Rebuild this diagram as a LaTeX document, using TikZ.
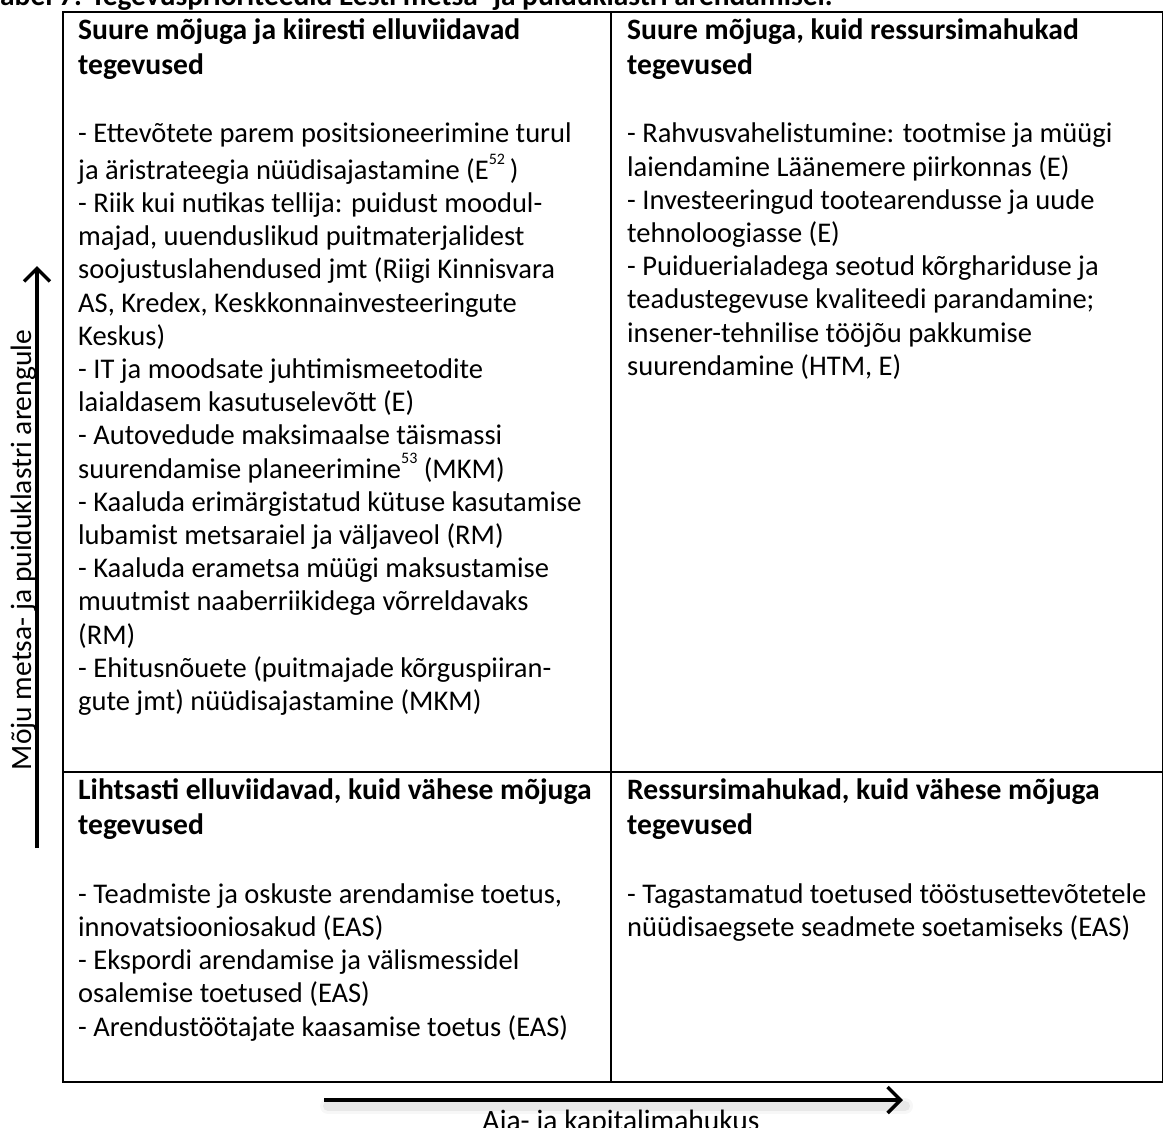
\documentclass[tikz,border=0pt]{standalone}
\usepackage{fontspec}
\setmainfont{Carlito}
\usetikzlibrary{arrows.meta}
\newcommand\fnsup[1]{\raisebox{15pt}{\fontsize{16}{16}\selectfont #1}}
\begin{document}
\begin{tikzpicture}[x=1pt,y=-1pt,
  gridline/.style={line width=1.8pt},
  head/.style={anchor=north west, inner sep=0pt, align=left,
    font=\fontsize{29.6}{35}\selectfont\bfseries},
  body/.style={anchor=north west, inner sep=0pt, align=left,
    font=\fontsize{28.5}{33.2}\selectfont},
  axislabel/.style={inner sep=0pt, font=\fontsize{29.5}{33}\selectfont},
  axisarrow/.style={line width=4pt,
    -{Straight Barb[length=13pt,width=26pt,line width=3.5pt]}},
  axisshadow/.style={line width=10pt, line cap=round, draw=black, draw opacity=0.06},
]
\useasboundingbox (0,0) rectangle (1163,1128);

% cut-off caption
\node[anchor=base west, inner sep=0pt, font=\fontsize{29.4}{33}\selectfont\bfseries]
  (caption) at (0,5) {\llap{T}abel 7. Tegevusprioriteedid Eesti metsa- ja puiduklastri arendamisel.};

% table grid
\draw[gridline] (63,12) rectangle (1163,1082);
\draw[gridline] (611,12) -- (611,1082);
\draw[gridline] (63,772) -- (1163,772);

% top-left cell
\node[head] (tlh) at (78,14.8) {\strut Suure mõjuga ja kiiresti elluviidavad\\tegevused};
\node[body] (tlb) at (78,119.5) {\strut- Ettevõtete parem positsioneerimine turul\\
ja äristrateegia nüüdisajastamine (E\fnsup{52}\,)\\
- Riik kui nutikas tellija: puidust moodul-\\
majad, uuenduslikud puitmaterjalidest\\
soojustuslahendused jmt (Riigi Kinnisvara\\
AS, Kredex, Keskkonnainvesteeringute\\
Keskus)\\
- IT ja moodsate juhtimismeetodite\\
laialdasem kasutuselevõtt (E)\\
- Autovedude maksimaalse täismassi\\
suurendamise planeerimine\fnsup{53} (MKM)\\
- Kaaluda erimärgistatud kütuse kasutamise\\
lubamist metsaraiel ja väljaveol (RM)\\
- Kaaluda erametsa müügi maksustamise\\
muutmist naaberriikidega võrreldavaks\\
(RM)\\
- Ehitusnõuete (puitmajade kõrguspiiran-\\
gute jmt) nüüdisajastamine (MKM)};

% top-right cell
\node[head] (trh) at (627,14.8) {\strut Suure mõjuga, kuid ressursimahukad\\tegevused};
\node[body] (trb) at (627,119.5) {\strut- Rahvusvahelistumine: tootmise ja müügi\\
laiendamine Läänemere piirkonnas (E)\\
- Investeeringud tootearendusse ja uude\\
tehnoloogiasse (E)\\
- Puiduerialadega seotud kõrghariduse ja\\
teadustegevuse kvaliteedi parandamine;\\
insener-tehnilise tööjõu pakkumise\\
suurendamine (HTM, E)};

% bottom-left cell
\node[head] (blh) at (78,774.5) {\strut Lihtsasti elluviidavad, kuid vähese mõjuga\\tegevused};
\node[body] (blb) at (78,879.8) {\strut- Teadmiste ja oskuste arendamise toetus,\\
innovatsiooniosakud (EAS)\\
- Ekspordi arendamise ja välismessidel\\
osalemise toetused (EAS)\\
- Arendustöötajate kaasamise toetus (EAS)};

% bottom-right cell
\node[head] (brh) at (627,774.5) {\strut Ressursimahukad, kuid vähese mõjuga\\tegevused};
\node[body] (brb) at (627,879.8) {\strut- Tagastamatud toetused tööstusettevõtetele\\
nüüdisaegsete seadmete soetamiseks (EAS)};

% vertical axis
\coordinate (vb) at (37,848);
\coordinate (vt) at (37,266);
\draw[axisarrow] (vb) -- (vt);
\node[axislabel, rotate=90, anchor=base] (vlab) at (31,550)
  {\underline{Mõju metsa- ja puiduklastri arengule}};

% horizontal axis
\coordinate (hl) at (324,1100);
\coordinate (hr) at (903,1100);
\coordinate (hls) at (328,1106);
\coordinate (hrs) at (905,1106);
\draw[axisshadow] (hls) -- (hrs);
\draw[axisshadow, line width=16pt, draw opacity=0.03] (hls) -- (hrs);
\draw[axisarrow] (hl) -- (hr);
\node[axislabel, anchor=base] (hlab) at (621,1130) {Aja- ja kapitalimahukus};
\end{tikzpicture}
\end{document}
